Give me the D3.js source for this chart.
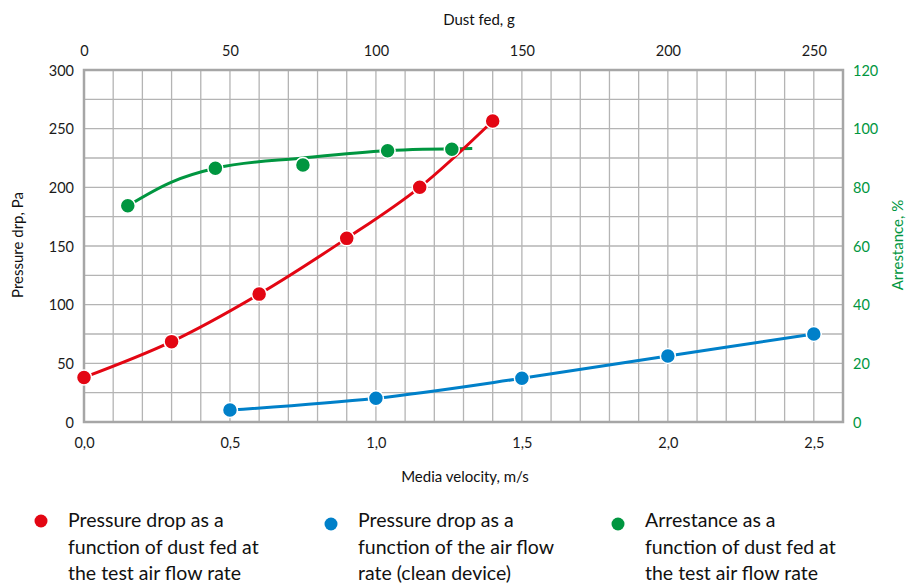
<!DOCTYPE html>
<html>
<head>
<meta charset="utf-8">
<script src="https://cdn.jsdelivr.net/npm/d3@7"></script>
<style>
  body { margin: 0; background: #fff; }
  svg text { font-family: Lato, "Noto Sans", sans-serif; fill: #1a1a1a; }
</style>
</head>
<body>
<svg id="chart" width="907" height="585"></svg>
<script>
// dust fed (g) -> pressure drop (Pa)
var redDust = [0, 30, 60, 90, 115, 140];
var redPa = [38, 68.5, 109, 156.5, 200, 256.5];
// media velocity (m/s) -> pressure drop (Pa), clean device
var blueVel = [0.5, 1.0, 1.5, 2.0, 2.5];
var bluePa = [10.2, 20.2, 37.2, 56.3, 75];
// dust fed (g) -> arrestance (%)
var greenDust = [15, 45, 75, 104, 126];
var greenPct = [73.7, 86.5, 87.6, 92.5, 93];
// trend line for arrestance
var greenTrendDust = [15, 30, 45, 75, 104, 133];
var greenTrendPct = [73.7, 81.8, 86.5, 90, 92.5, 93.2];

var velTicks = [0, 0.5, 1, 1.5, 2, 2.5];
var dustTicks = [0, 50, 100, 150, 200, 250];
var paTicks = [0, 50, 100, 150, 200, 250, 300];
var pctTicks = [0, 20, 40, 60, 80, 100, 120];

var legendItems = [
  {color: "#e30613", lines: ["Pressure drop as a", "function of dust fed at", "the test air flow rate"]},
  {color: "#0080c9", lines: ["Pressure drop as a", "function of the air flow", "rate (clean device)"]},
  {color: "#009640", lines: ["Arrestance as a", "function of dust fed at", "the test air flow rate"]}
];

var svg = d3.select("#chart");
var pLeft = 84, pRight = 843, pTop = 70, pBottom = 422;

var xVel = d3.scaleLinear().domain([0, 2.6]).range([pLeft, pRight]);
var xDust = d3.scaleLinear().domain([0, 260]).range([pLeft, pRight]);
var yPa = d3.scaleLinear().domain([0, 300]).range([pBottom, pTop]);
var yPct = d3.scaleLinear().domain([0, 120]).range([pBottom, pTop]);

/* grid */
var grid = svg.append("g");
grid.selectAll("line.v").data(d3.range(0, 27)).enter().append("line")
  .attr("x1", function(d) { return xVel(d / 10); })
  .attr("x2", function(d) { return xVel(d / 10); })
  .attr("y1", pTop).attr("y2", pBottom)
  .attr("stroke", "#b4b4b4").attr("stroke-width", 1.3);
grid.selectAll("line.h").data(d3.range(0, 13)).enter().append("line")
  .attr("y1", function(d) { return yPa(d * 25); })
  .attr("y2", function(d) { return yPa(d * 25); })
  .attr("x1", pLeft).attr("x2", pRight)
  .attr("stroke", "#b4b4b4").attr("stroke-width", 1.3);
svg.append("rect").attr("x", pLeft).attr("y", pTop)
  .attr("width", pRight - pLeft).attr("height", pBottom - pTop)
  .attr("fill", "none").attr("stroke", "#a6a6a6").attr("stroke-width", 2.5);

/* axes */
var fmtComma = function(d) { return d3.format(".1f")(d).replace(".", ","); };

var axB = svg.append("g").attr("transform", "translate(0," + (pBottom + 26) + ")")
  .call(d3.axisBottom(xVel).tickValues(velTicks).tickFormat(fmtComma).tickSize(0));
var axT = svg.append("g").attr("transform", "translate(0," + (pTop - 14) + ")")
  .call(d3.axisTop(xDust).tickValues(dustTicks).tickSize(0));
var axL = svg.append("g").attr("transform", "translate(" + (pLeft - 10) + ",0)")
  .call(d3.axisLeft(yPa).tickValues(paTicks).tickSize(0));
var axR = svg.append("g").attr("transform", "translate(" + (pRight + 10) + ",0)")
  .call(d3.axisRight(yPct).tickValues(pctTicks).tickSize(0));

[axB, axT, axL, axR].forEach(function(a) {
  a.select(".domain").remove();
  a.selectAll("text").style("font-size", "14.5px").style("font-family", "Lato, sans-serif");
});
axB.selectAll("text").attr("y", 0).attr("dy", 0);
axT.selectAll("text").attr("y", 0).attr("dy", 0);
axL.selectAll("text").attr("x", 0).attr("dy", "0.35em");
axR.selectAll("text").attr("x", 0).attr("dy", "0.35em").style("fill", "#009640");

svg.append("text").attr("x", 479).attr("y", 25).attr("text-anchor", "middle")
  .style("font-size", "15px").style("fill", "#111").text("Dust fed, g");
svg.append("text").attr("x", 465).attr("y", 482).attr("text-anchor", "middle")
  .style("font-size", "15px").style("fill", "#111").text("Media velocity, m/s");
svg.append("text").attr("transform", "translate(23,245) rotate(-90)").attr("text-anchor", "middle")
  .style("font-size", "15px").style("fill", "#111").text("Pressure drp, Pa");
svg.append("text").attr("transform", "translate(903,245) rotate(-90)").attr("text-anchor", "middle")
  .style("font-size", "15px").style("fill", "#009640").text("Arrestance, %");

/* lines */
function drawSeries(xs, ys, xScale, yScale, color, curve) {
  var pts = xs.map(function(d, i) { return [xScale(d), yScale(ys[i])]; });
  svg.append("path").attr("d", d3.line().curve(curve)(pts))
    .attr("fill", "none").attr("stroke", color).attr("stroke-width", 3);
}
function drawPoints(xs, ys, xScale, yScale, color) {
  svg.append("g").selectAll("circle").data(xs).enter().append("circle")
    .attr("cx", function(d) { return xScale(d); })
    .attr("cy", function(d, i) { return yScale(ys[i]); })
    .attr("r", 7.5).attr("fill", color).attr("stroke", "#fff").attr("stroke-width", 1.5);
}

drawSeries(greenTrendDust, greenTrendPct, xDust, yPct, "#009640", d3.curveMonotoneX);
drawSeries(redDust, redPa, xDust, yPa, "#e30613", d3.curveCatmullRom);
drawSeries(blueVel, bluePa, xVel, yPa, "#0080c9", d3.curveCatmullRom);
drawPoints(greenDust, greenPct, xDust, yPct, "#009640");
drawPoints(redDust, redPa, xDust, yPa, "#e30613");
drawPoints(blueVel, bluePa, xVel, yPa, "#0080c9");

/* legend */
var leg = svg.append("g").selectAll("g").data(legendItems).enter().append("g")
  .attr("transform", function(d, i) { return "translate(" + [41, 331, 618][i] + ",0)"; });
leg.append("circle").attr("cx", 0).attr("cy", function(d, i) { return i == 0 ? 521 : 524; })
  .attr("r", 6.5).attr("fill", function(d) { return d.color; });
leg.each(function(d) {
  var g = d3.select(this);
  g.selectAll("text").data(d.lines).enter().append("text")
    .attr("x", 27).attr("y", function(t, j) { return 527 + j * 26.5; })
    .style("font-size", "19.5px").style("fill", "#111").text(function(t) { return t; });
});
</script>
</body>
</html>
